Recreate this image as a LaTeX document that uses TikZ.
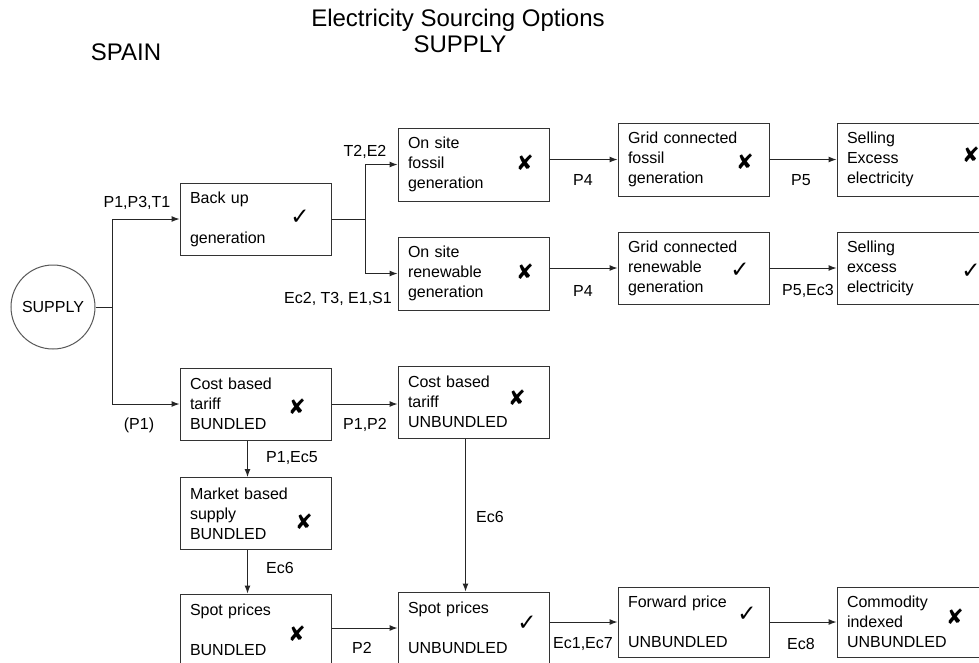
\documentclass[tikz,border=0pt]{standalone}
\usepackage{fontspec}
\setmainfont{Liberation Sans}
\newfontfamily\symfont{DejaVu Sans}
\usetikzlibrary{arrows.meta,positioning}

\begin{document}
\begin{tikzpicture}[x=1pt,y=-1pt,
			optbox/.style={draw=black!80,line width=1pt,minimum width=151pt,minimum height=72pt,
				text width=131pt,inner xsep=10pt,inner ysep=0pt,align=left,font=\fontsize{16}{20}\selectfont},
			okmark/.style={font=\symfont\fontsize{23}{23}\selectfont,inner sep=0pt},
			nomark/.style={font=\symfont\fontsize{21}{21}\selectfont,inner sep=0pt},
			lbl/.style={font=\fontsize{16}{20}\selectfont,inner sep=0pt},
			heading/.style={font=\fontsize{24}{28}\selectfont,inner sep=0pt},
			wire/.style={draw=black!85,line width=1pt},
			conn/.style={wire,-{Latex[length=8pt,width=6pt]}}]

			\useasboundingbox[fill=white] (0,0) rectangle (979,662);
			\clip (0,0) rectangle (979,662);

			% headings
			\node [heading] (title) at (458,20) {Electricity Sourcing Options};
			\node [heading] (sub) at (460,44) {SUPPLY};
			\node [heading] (country) at (126,52) {SPAIN};

			\node [draw=black!65,line width=1pt,circle,minimum size=84pt,inner sep=0pt,
				font=\fontsize{16}{20}\selectfont] (supply) at (53,307) {SUPPLY};

			% generation branch
			\node [optbox] (backup) at (255.5,219) {Back up\\[20pt]generation};
			\node [optbox,minimum height=73pt] (fossil) at (473.5,164.5) {On site\\fossil\\generation};
			\node [optbox,minimum height=73pt] (gridfossil) at (693.5,159.5) {Grid connected\\fossil\\generation};
			\node [optbox,minimum height=73pt] (sellfossil) at (912.5,159.5) {Selling\\Excess\\electricity};
			\node [optbox,minimum height=73pt] (renew) at (473.5,273.5) {On site\\renewable\\generation};
			\node [optbox] (gridrenew) at (693.5,268) {Grid connected\\renewable\\generation};
			\node [optbox] (sellrenew) at (912.5,268) {Selling\\excess\\electricity};

			% tariff branch
			\node [optbox] (costb) at (255.5,404) {Cost based\\tariff\\BUNDLED};
			\node [optbox] (costu) at (473.5,402) {Cost based\\tariff\\UNBUNDLED};
			\node [optbox] (market) at (255.5,513.5) {Market based\\supply\\BUNDLED};
			\node [optbox] (spotb) at (255.5,630) {Spot prices\\[20pt]BUNDLED};
			\node [optbox] (spotu) at (473.5,628) {Spot prices\\[20pt]UNBUNDLED};
			\node [optbox,minimum height=70pt] (forward) at (693.5,622) {Forward price\\[20pt]UNBUNDLED};
			\node [optbox,minimum height=70pt] (commodity) at (912.5,622) {Commodity\\indexed\\UNBUNDLED};

			% ticks and crosses
			\node [okmark] (backup-ok) at (300,217) {✓};
			\node [nomark] (fossil-no) at (525,163) {✘};
			\node [nomark] (gridfossil-no) at (745,162) {✘};
			\node [nomark] (sellfossil-no) at (971,155) {✘};
			\node [nomark] (renew-no) at (525,272) {✘};
			\node [okmark] (gridrenew-ok) at (740,270) {✓};
			\node [okmark] (sellrenew-ok) at (971,271) {✓};
			\node [nomark] (costb-no) at (297,407) {✘};
			\node [nomark] (costu-no) at (517,398) {✘};
			\node [nomark] (market-no) at (304,522) {✘};
			\node [nomark] (spotb-no) at (297,634) {✘};
			\node [okmark] (spotu-ok) at (527,623) {✓};
			\node [okmark] (forward-ok) at (747,614) {✓};
			\node [nomark] (commodity-no) at (955,617) {✘};

			% connectors
			\coordinate (fork1) at (112,307);
			\coordinate (fork2) at (365,219);
			\draw [wire] (supply) -- (fork1);
			\draw [conn] (fork1) |- (backup);
			\draw [conn] (fork1) |- (costb);
			\draw [wire] (backup) -- (fork2);
			\draw [conn] (fork2) |- (fossil);
			\draw [conn] (fork2) |- (renew);
			\draw [conn] (fossil.east |- gridfossil.west) -- (gridfossil.west);
			\draw [conn] (gridfossil) -- (sellfossil);
			\draw [conn] (renew.east |- gridrenew.west) -- (gridrenew.west);
			\draw [conn] (gridrenew) -- (sellrenew);
			\draw [conn] (costb.east) -- (costb.east -| costu.west);
			\draw [conn] ([xshift=-8pt]costb.south) -- ([xshift=-8pt]market.north);
			\draw [conn] ([xshift=-8pt]market.south) -- ([xshift=-8pt]spotb.north);
			\draw [conn] ([xshift=-8pt]costu.south) -- ([xshift=-8pt]spotu.north);
			\draw [conn] (spotb.east |- spotu.west) -- (spotu.west);
			\draw [conn] (spotu.east |- forward.west) -- (forward.west);
			\draw [conn] (forward) -- (commodity);

			% connector labels
			\node [lbl] (l-backup) at (137,203) {P1,P3,T1};
			\node [lbl] (l-costb) at (139,425) {(P1)};
			\node [lbl] (l-fossil) at (365,152) {T2,E2};
			\node [lbl] (l-renew) at (338,299) {Ec2, T3, E1,S1};
			\node [lbl] (l-gridfossil) at (583,180) {P4};
			\node [lbl] (l-sellfossil) at (801,180) {P5};
			\node [lbl] (l-gridrenew) at (583,291) {P4};
			\node [lbl] (l-sellrenew) at (808,291) {P5,Ec3};
			\node [lbl] (l-costu) at (365,425) {P1,P2};
			\node [lbl] (l-market) at (292,458) {P1,Ec5};
			\node [lbl] (l-spotb) at (280,568) {Ec6};
			\node [lbl] (l-spotu) at (490,517) {Ec6};
			\node [lbl] (l-spot) at (362,648) {P2};
			\node [lbl] (l-forward) at (583,644) {Ec1,Ec7};
			\node [lbl] (l-commodity) at (801,644) {Ec8};
	\end{tikzpicture}
\end{document}
